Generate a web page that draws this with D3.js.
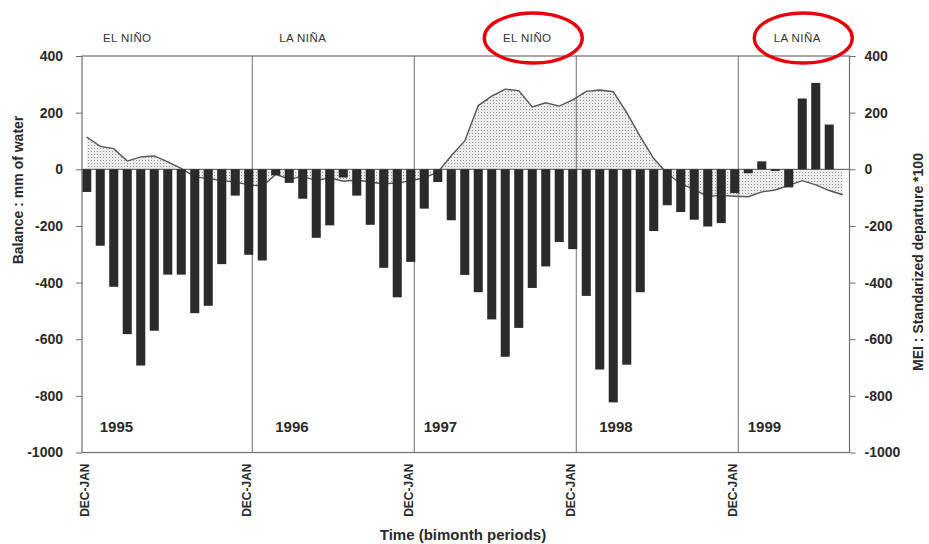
<!DOCTYPE html>
<html>
<head>
<meta charset="utf-8">
<script src="https://cdn.jsdelivr.net/npm/d3@7"></script>
<style>
  body { margin: 0; background: #fff; }
  text { font-family: Arial, "Liberation Sans", sans-serif; }
</style>
</head>
<body>
<svg id="chart" width="929" height="544"></svg>
<script>
// Bimonthly periods, starting DEC-JAN 1994/95
const bimonths = ["DEC-JAN", "JAN-FEB", "FEB-MAR", "MAR-APR", "APR-MAY", "MAY-JUN",
                  "JUN-JUL", "JUL-AUG", "AUG-SEP", "SEP-OCT", "OCT-NOV", "NOV-DEC"];
const firstYear = 1995;
const periodCount = 57;
const periods = d3.range(periodCount).map(i => `${bimonths[i % 12]} ${firstYear + Math.floor(i / 12)}`);

// Water balance (mm of water), one bar per bimonth period
const balance = [
  -80, -270, -415, -582, -693, -570, -372, -372, -508, -482, -335, -93,
  -302, -322, -21, -48, -104, -242, -198, -29, -93, -196, -348, -452,
  -327, -139, -45, -180, -373, -434, -530, -662, -560, -419, -343, -257,
  -282, -447, -707, -823, -690, -434, -218, -127, -151, -178, -202, -190,
  -84, -14, 28, -6, -64, 250, 305, 158
];

// Multivariate ENSO Index (standardized departure * 100)
const mei = [
  114, 81, 73, 29, 44, 47, 26, 3, -27, -33, -40, -45,
  -55, -60, -18, -35, -25, -40, -30, -42, -38, -45, -52, -48,
  -41, -30, -10, 48, 100, 225, 258, 283, 278, 220, 235, 223,
  245, 275, 280, 274, 200, 115, 38, -15, -51, -72, -96, -92,
  -95, -97, -80, -73, -57, -40, -55, -75, -90
];

// Year labels (with the period they start at), ENSO phase labels
const yearLabels = ["1995", "1996", "1997", "1998", "1999"];
const yearPeriods = [1, 14, 25, 38, 49];
const ensoLabels = ["EL NIÑO", "LA NIÑA", "EL NIÑO", "LA NIÑA"];
const ensoPeriods = [3, 16, 33, 53];
const ensoCircled = [false, false, true, true];
const yTicks = [-1000, -800, -600, -400, -200, 0, 200, 400];

const svg = d3.select("#chart");
const frame = { left: 82, right: 849.5, top: 56, bottom: 452.5 };

const x = d3.scaleBand()
  .domain(periods)
  .range([80, 849.5])
  .paddingInner(0.33)
  .paddingOuter(0.165);
const cx = i => x(periods[i]) + x.bandwidth() / 2;

const y = d3.scaleLinear().domain([-1000, 400]).range([frame.bottom, frame.top]);

// Stipple pattern for the MEI area
const defs = svg.append("defs");
const pat = defs.append("pattern")
  .attr("id", "stipple").attr("patternUnits", "userSpaceOnUse")
  .attr("width", 3).attr("height", 3);
pat.append("rect").attr("width", 3).attr("height", 3).attr("fill", "#ececec");
pat.append("rect").attr("x", 1).attr("y", 1).attr("width", 1).attr("height", 1).attr("fill", "#949494");

const gridColor = "#6f6f6f";

// MEI area and line
const meiPts = mei.map((v, i) => [cx(i), v]);
svg.append("path")
  .datum(meiPts)
  .attr("fill", "url(#stipple)")
  .attr("d", d3.area().x(d => d[0]).y0(y(0)).y1(d => y(d[1])));

// Zero line
svg.append("line")
  .attr("x1", frame.left).attr("x2", frame.right)
  .attr("y1", y(0)).attr("y2", y(0))
  .attr("stroke", gridColor).attr("stroke-width", 1.2);

svg.append("path")
  .datum(meiPts)
  .attr("fill", "none")
  .attr("stroke", "#555")
  .attr("stroke-width", 1.4)
  .attr("d", d3.line().x(d => d[0]).y(d => y(d[1])));

// Year separators at each DEC-JAN period
const decJan = periods.filter((p, i) => i % 12 === 0);
svg.append("g").selectAll("line")
  .data(decJan.slice(1))
  .join("line")
  .attr("x1", d => x(d) + x.bandwidth() - 1).attr("x2", d => x(d) + x.bandwidth() - 1)
  .attr("y1", frame.top).attr("y2", frame.bottom)
  .attr("stroke", gridColor).attr("stroke-width", 1);

// Balance bars
svg.append("g").selectAll("rect")
  .data(balance)
  .join("rect")
  .attr("x", (d, i) => x(periods[i]))
  .attr("width", x.bandwidth())
  .attr("y", d => y(Math.max(0, d)))
  .attr("height", d => Math.abs(y(d) - y(0)))
  .attr("fill", "#2b2b2b");

// Plot frame
svg.append("rect")
  .attr("x", frame.left).attr("y", frame.top)
  .attr("width", frame.right - frame.left).attr("height", frame.bottom - frame.top)
  .attr("fill", "none").attr("stroke", gridColor).attr("stroke-width", 1.2);

// Left and right axes
const styleAxis = g => {
  g.select(".domain").remove();
  g.selectAll(".tick line").attr("stroke", gridColor);
  g.selectAll(".tick text")
    .attr("fill", "#2a2a2a").attr("font-size", 14).attr("font-weight", "bold");
};
svg.append("g")
  .attr("transform", `translate(${frame.left},0)`)
  .call(d3.axisLeft(y).tickValues(yTicks).tickSize(6).tickPadding(13).tickFormat(d => String(d)))
  .call(styleAxis);
svg.append("g")
  .attr("transform", `translate(${frame.right},0)`)
  .call(d3.axisRight(y).tickValues(yTicks).tickSize(6).tickPadding(9).tickFormat(d => String(d)))
  .call(styleAxis);

// Bottom labels: DEC-JAN at each year start
const xAxis = svg.append("g")
  .attr("transform", `translate(0,${frame.bottom})`)
  .call(d3.axisBottom(x).tickValues(decJan).tickSize(0).tickFormat(d => d.split(" ")[0]));
xAxis.select(".domain").remove();
xAxis.selectAll(".tick text")
  .attr("transform", "rotate(-90)")
  .attr("text-anchor", "end")
  .attr("x", -11).attr("y", 0).attr("dy", "0.2em")
  .attr("fill", "#2a2a2a").attr("font-size", 12).attr("font-weight", "bold");

// Year labels inside each year block
svg.append("g").selectAll("text")
  .data(yearLabels)
  .join("text")
  .attr("x", (d, i) => x(periods[yearPeriods[i]]) + 4)
  .attr("y", 432)
  .attr("fill", "#2a2a2a").attr("font-size", 15).attr("font-weight", "bold")
  .text(d => d);

// ENSO phase labels above the plot
svg.append("g").selectAll("text")
  .data(ensoLabels)
  .join("text")
  .attr("x", (d, i) => cx(ensoPeriods[i]) - (ensoCircled[i] ? 5 : 0))
  .attr("y", 42)
  .attr("text-anchor", "middle")
  .attr("fill", "#333").attr("font-size", 11.5).attr("letter-spacing", 0.4)
  .text(d => d);

svg.append("g").selectAll("ellipse")
  .data(ensoPeriods.filter((p, i) => ensoCircled[i]))
  .join("ellipse")
  .attr("cx", d => cx(d) + 1)
  .attr("cy", 38)
  .attr("rx", 49).attr("ry", 25)
  .attr("fill", "none").attr("stroke", "#e8000b").attr("stroke-width", 3.4);

// Axis titles
svg.append("text")
  .attr("transform", `translate(23,190) rotate(-90)`)
  .attr("text-anchor", "middle")
  .attr("fill", "#2a2a2a").attr("font-size", 14).attr("font-weight", "bold")
  .text("Balance : mm of water");
svg.append("text")
  .attr("transform", `translate(923,262) rotate(-90)`)
  .attr("text-anchor", "middle")
  .attr("fill", "#2a2a2a").attr("font-size", 14).attr("font-weight", "bold")
  .text("MEI : Standarized departure *100");
svg.append("text")
  .attr("x", 463).attr("y", 540)
  .attr("text-anchor", "middle")
  .attr("fill", "#2a2a2a").attr("font-size", 15).attr("font-weight", "bold")
  .text("Time (bimonth periods)");
</script>
</body>
</html>
